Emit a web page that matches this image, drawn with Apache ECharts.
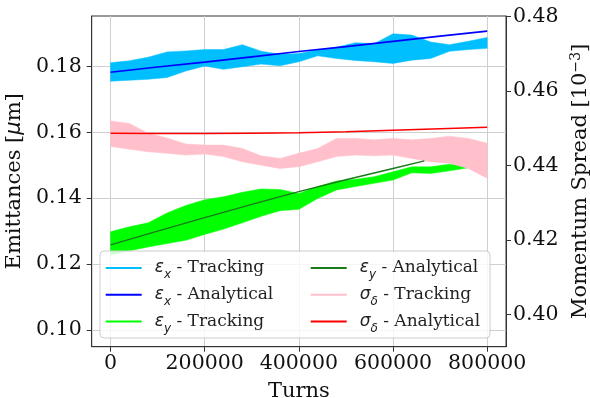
<!DOCTYPE html>
<html><head><meta charset="utf-8">
<script src="https://cdn.jsdelivr.net/npm/echarts@6/dist/echarts.min.js"></script>
<style>html,body{margin:0;padding:0;background:#fff}#c{width:590px;height:398px}</style>
</head><body><div id="c"></div>
<script>
// ---- data ----
const turns = [0,40000,80000,120000,160000,200000,240000,280000,320000,360000,400000,440000,480000,520000,560000,600000,640000,680000,720000,760000,800000];
const exTop = [0.1811,0.1817,0.1828,0.1844,0.1847,0.1851,0.1851,0.1866,0.1846,0.1837,0.1839,0.1850,0.1858,0.1872,0.1869,0.1899,0.1895,0.1874,0.1866,0.1876,0.1888];
const exBot = [0.1755,0.1758,0.1761,0.1766,0.1786,0.1801,0.1791,0.1799,0.1807,0.1802,0.1814,0.1832,0.1824,0.1818,0.1814,0.1809,0.1819,0.1824,0.1846,0.1851,0.1855];
const eyTurns = [0,40000,80000,120000,160000,200000,240000,280000,320000,360000,400000,440000,480000,520000,560000,600000,640000,680000,720000,760000];
const eyTop = [0.1298,0.1313,0.1325,0.1355,0.1378,0.1395,0.1404,0.1418,0.1428,0.1426,0.1414,0.1435,0.1452,0.1457,0.1465,0.1480,0.1495,0.1495,0.1503,0.1500];
const eyBot = [0.1228,0.1240,0.1252,0.1262,0.1272,0.1290,0.1306,0.1325,0.1345,0.1362,0.1366,0.1399,0.1425,0.1435,0.1445,0.1455,0.1477,0.1475,0.1483,0.1492];
const sdTop = [0.4520,0.4513,0.4487,0.4474,0.4458,0.4455,0.4455,0.4446,0.4426,0.4419,0.4433,0.4446,0.4473,0.4473,0.4469,0.4473,0.4469,0.4473,0.4479,0.4473,0.4460];
const sdBot = [0.4451,0.4444,0.4437,0.4433,0.4428,0.4431,0.4424,0.4410,0.4401,0.4392,0.4397,0.4410,0.4424,0.4428,0.4426,0.4428,0.4419,0.4410,0.4406,0.4392,0.4366];
const anaTurns = [0,100000,200000,300000,400000,500000,600000,700000,800000];
const exAna = [0.1782,0.1798,0.1813,0.1829,0.1845,0.1860,0.1876,0.1892,0.1907];
const sdAna = [0.4487,0.4486,0.4486,0.4487,0.4488,0.4491,0.4495,0.4499,0.4503];
const eyAnaTurns = [0,100000,200000,300000,400000,500000,600000,666600];
const eyAna = [0.1258,0.1300,0.1341,0.1381,0.1420,0.1456,0.1490,0.1513];
const xTicks = [0,200000,400000,600000,800000];
const yLeftTicks = [0.10,0.12,0.14,0.16,0.18];
const yRightTicks = [0.40,0.42,0.44,0.46,0.48];
const legendNames = ['ex_t','ex_a','ey_t','ey_a','sd_t','sd_a'];
const legendLabels = {
  ex_t:'{g|ε}{s|x}{t| - Tracking}', ex_a:'{g|ε}{s|x}{t| - Analytical}', ey_t:'{g|ε}{s|y}{t| - Tracking}',
  ey_a:'{g|ε}{s|y}{t| - Analytical}', sd_t:'{g|σ}{s|δ}{t| - Tracking}', sd_a:'{g|σ}{s|δ}{t| - Analytical}'
};
const colors = {ex_t:'#00BFFF', ex_a:'#0000FF', ey_t:'#00FF00', ey_a:'#1a7a1a', sd_t:'#FFC0CB', sd_a:'#FF0000'};

// ---- build ----
const pairs = (xs, ys) => xs.map((x, i) => [x, ys[i]]);
function band(name, xs, top, bot, yIdx) {
  return {
    type:'custom', name, yAxisIndex: yIdx, color: colors[name],
    data: xs.map((x, i) => [x, top[i], bot[i]]),
    encode:{x:0, y:[1,2]},
    renderItem(params, api) {
      if (params.dataIndex !== 0) return null;
      const pts = [];
      for (let i = 0; i < xs.length; i++) pts.push(api.coord([xs[i], top[i]]));
      for (let i = xs.length - 1; i >= 0; i--) pts.push(api.coord([xs[i], bot[i]]));
      return {type:'polygon', shape:{points: pts}, style:{fill: colors[name], stroke: colors[name], lineWidth:0.5}};
    }
  };
}
function line(name, xs, ys, yIdx, w) {
  return {type:'line', name, yAxisIndex: yIdx, color: colors[name], data: pairs(xs, ys),
    symbol:'none', lineStyle:{width: w, color: colors[name]}};
}
const serif = 'DejaVu Serif';
const rich = {
  g:{fontFamily:'DejaVu Sans', fontStyle:'italic', fontSize:17, lineHeight:20},
  s:{fontFamily:'DejaVu Sans', fontStyle:'italic', fontSize:12, lineHeight:20, verticalAlign:'bottom', padding:[0,0,-3,0]},
  t:{fontFamily:serif, fontSize:17, lineHeight:20}
};
function legend(left, names) {
  return {
    orient:'vertical', left, top:258, padding:0, itemGap:3.7, itemWidth:36, itemHeight:2,
    icon:'rect', selectedMode:false, z:10,
    data: names.map(n => ({name:n, itemStyle:{color: colors[n], borderWidth:0}})),
    formatter: n => legendLabels[n],
    textStyle:{color:'#222', fontFamily:serif, fontSize:17, lineHeight:20, padding:[0,0,0,8], rich}
  };
}
const chart = echarts.init(document.getElementById('c'), null, {renderer:'canvas'});
chart.setOption({
  animation:false,
  backgroundColor:'#fff',
  grid:{left:91.7, right:84, top:16, bottom:51.3, show:true, borderColor:'#333', borderWidth:1,
        containLabel:false, outerBoundsMode:'none'},
  xAxis:{type:'value', min:-40000, max:840000,
    name:'Turns', nameLocation:'middle', nameGap:34,
    nameTextStyle:{fontFamily:serif, fontSize:21, color:'#111'},
    axisLine:{show:true, onZero:false, lineStyle:{color:'#333'}},
    axisTick:{show:true, length:5, customValues:xTicks, lineStyle:{color:'#333'}},
    axisLabel:{customValues:xTicks, margin:6, fontFamily:serif, fontSize:20.5, color:'#111', formatter: v => String(v)},
    splitLine:{show:true, lineStyle:{color:'#cfcfcf', width:1}}},
  yAxis:[
    {type:'value', min:0.0949, max:0.1953, position:'left',
     name:'Emittances [{m|μ}m]', nameLocation:'middle', nameGap:60, nameRotate:90,
     nameTextStyle:{fontFamily:serif, fontSize:21, color:'#111', rich:{m:{fontFamily:'DejaVu Sans', fontStyle:'italic', fontSize:21}}},
     axisLine:{show:true, onZero:false, lineStyle:{color:'#333'}},
     axisTick:{show:true, length:5, customValues:yLeftTicks, lineStyle:{color:'#333'}},
     axisLabel:{customValues:yLeftTicks, margin:10, fontFamily:serif, fontSize:20.5, color:'#111', formatter: v => v.toFixed(2)},
     splitLine:{show:true, lineStyle:{color:'#cfcfcf', width:1}}},
    {type:'value', min:0.3913, max:0.4802, position:'right',
     name:'Momentum Spread [10{p|−3}]', nameLocation:'middle', nameGap:57, nameRotate:90,
     nameTextStyle:{fontFamily:serif, fontSize:21, color:'#111', rich:{p:{fontFamily:serif, fontSize:14, verticalAlign:'top', padding:[0,0,8,0]}}},
     axisLine:{show:true, onZero:false, lineStyle:{color:'#333'}},
     axisTick:{show:true, length:5, customValues:yRightTicks, lineStyle:{color:'#333'}},
     axisLabel:{customValues:yRightTicks, margin:7, fontFamily:serif, fontSize:20.5, color:'#111', formatter: v => v.toFixed(2)},
     splitLine:{show:false}}
  ],
  legend:[legend(105.7, legendNames.slice(0,3)), legend(310.7, legendNames.slice(3))],
  graphic:[{type:'rect', z:5, shape:{x:100, y:251, width:390, height:87, r:4},
    style:{fill:'rgba(255,255,255,0.8)', stroke:'#cccccc', lineWidth:1}}],
  series:[
    band('ex_t', turns, exTop, exBot, 0),
    line('ex_a', anaTurns, exAna, 0, 1.6),
    band('ey_t', eyTurns, eyTop, eyBot, 0),
    line('ey_a', eyAnaTurns, eyAna, 0, 1.4),
    band('sd_t', turns, sdTop, sdBot, 1),
    line('sd_a', anaTurns, sdAna, 1, 1.6)
  ]
});
</script></body></html>
